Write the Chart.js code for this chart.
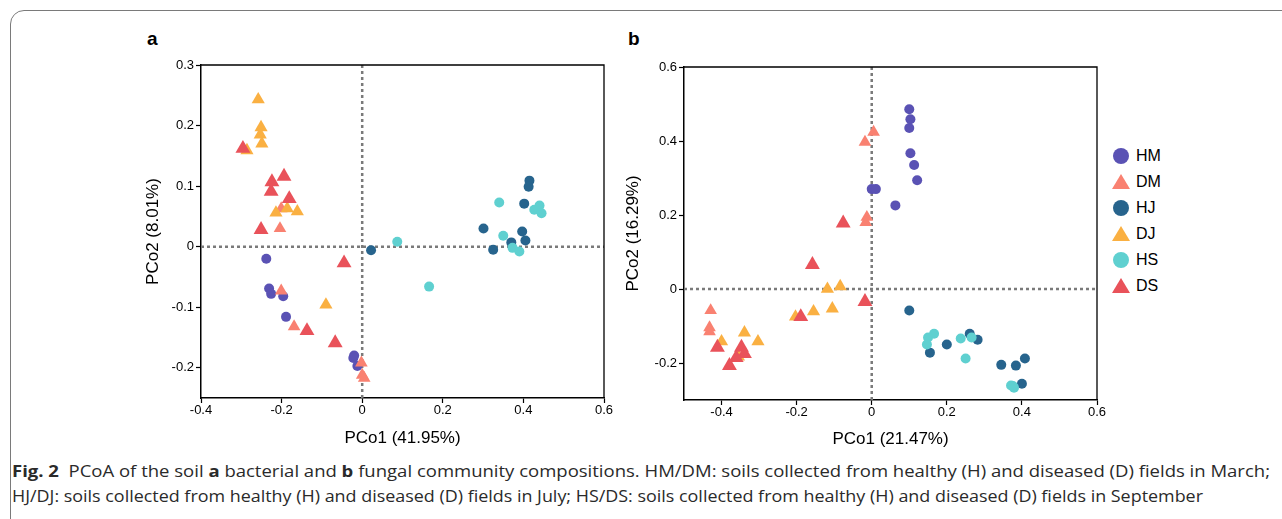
<!DOCTYPE html>
<html>
<head>
<meta charset="utf-8">
<script src="https://cdn.jsdelivr.net/npm/chart.js@4.4.1/dist/chart.umd.min.js"></script>
<style>
  body { margin: 0; width: 1282px; height: 519px; overflow: hidden; background: #fff; position: relative; font-family: "Liberation Sans", Arial, sans-serif; }
  .frame { position: absolute; left: 10px; top: 10px; width: 1320px; height: 600px; border: 1.5px solid #7a7a7a; border-radius: 14px; }
  canvas { position: absolute; }
  .panel { position: absolute; font-weight: bold; font-size: 19px; color: #000; }
  .legend { position: absolute; left: 1112px; top: 143px; }
  .legend div { position: relative; height: 26px; line-height: 26px; font-size: 16px; padding-left: 24px; color: #000; }
  .legend .dot { position: absolute; left: 1px; top: 5px; width: 16px; height: 16px; border-radius: 50%; padding: 0; }
  .legend .tri { position: absolute; left: 0; top: 5px; width: 0; height: 0; padding: 0; border-left: 9px solid transparent; border-right: 9px solid transparent; border-bottom: 15px solid; }
  .caption { position: absolute; left: 12px; white-space: nowrap; font-family: "Open Sans", sans-serif; font-size: 16px; color: #2a2a2a; transform-origin: 0 50%; }
</style>
</head>
<body>
<div class="frame"></div>
<div class="panel" style="left:147px; top:28px;">a</div>
<div class="panel" style="left:628px; top:28px;">b</div>

<canvas id="chartA" width="473" height="394" style="left:143px; top:55px;"></canvas>
<canvas id="chartB" width="486" height="393" style="left:623px; top:57px;"></canvas>

<div class="legend" id="legend"></div>

<div class="caption" id="cap1" style="top:460px;"><b>Fig. 2</b>&nbsp; PCoA of the soil <b>a</b> bacterial and <b>b</b> fungal community compositions. HM/DM: soils collected from healthy (H) and diseased (D) fields in March;</div>
<div class="caption" id="cap2" style="top:485px;">HJ/DJ: soils collected from healthy (H) and diseased (D) fields in July; HS/DS: soils collected from healthy (H) and diseased (D) fields in September</div>

<script>
// ---------------- data : panel a (bacteria) ----------------
const aHM = [[-0.238, -0.020], [-0.231, -0.069], [-0.226, -0.078], [-0.196, -0.082], [-0.189, -0.116], [-0.020, -0.180], [-0.022, -0.184], [-0.012, -0.197]];
const aDM = [[-0.201, 0.063], [-0.204, 0.030], [-0.201, -0.073], [-0.169, -0.132], [-0.002, -0.192], [0.000, -0.212], [0.005, -0.217]];
const aHJ = [[0.415, 0.109], [0.413, 0.099], [0.402, 0.071], [0.301, 0.030], [0.397, 0.025], [0.405, 0.010], [0.370, 0.007], [0.325, -0.005], [0.022, -0.006]];
const aDJ = [[-0.258, 0.243], [-0.251, 0.197], [-0.253, 0.185], [-0.249, 0.170], [-0.286, 0.159], [-0.214, 0.056], [-0.186, 0.063], [-0.161, 0.058], [-0.090, -0.096]];
const aHS = [[0.340, 0.073], [0.440, 0.068], [0.427, 0.061], [0.445, 0.055], [0.350, 0.018], [0.373, -0.002], [0.390, -0.008], [0.087, 0.008], [0.166, -0.066]];
const aDS = [[-0.296, 0.162], [-0.224, 0.107], [-0.194, 0.116], [-0.226, 0.091], [-0.181, 0.079], [-0.251, 0.028], [-0.045, -0.027], [-0.137, -0.139], [-0.067, -0.159]];

// ---------------- data : panel b (fungi) ----------------
const bHM = [[0.100, 0.486], [0.103, 0.459], [0.100, 0.435], [0.103, 0.367], [0.113, 0.335], [0.121, 0.294], [0.000, 0.270], [0.011, 0.270], [0.063, 0.226]];
const bDM = [[0.005, 0.424], [-0.018, 0.397], [-0.013, 0.194], [-0.016, 0.180], [-0.429, -0.058], [-0.432, -0.104], [-0.432, -0.115]];
const bHJ = [[0.100, -0.058], [0.155, -0.172], [0.200, -0.150], [0.261, -0.121], [0.282, -0.137], [0.345, -0.205], [0.384, -0.207], [0.408, -0.188], [0.400, -0.256]];
const bDJ = [[-0.118, 0.000], [-0.084, 0.007], [-0.203, -0.075], [-0.155, -0.061], [-0.105, -0.053], [-0.400, -0.142], [-0.339, -0.118], [-0.303, -0.142], [-0.355, -0.183]];
const bHS = [[0.166, -0.121], [0.150, -0.131], [0.147, -0.150], [0.237, -0.134], [0.266, -0.131], [0.250, -0.188], [0.371, -0.261], [0.379, -0.267], [0.376, -0.262]];
const bDS = [[-0.158, 0.066], [-0.076, 0.178], [-0.018, -0.034], [-0.189, -0.075], [-0.411, -0.158], [-0.347, -0.158], [-0.339, -0.175], [-0.361, -0.186], [-0.379, -0.207]];

// tick labels
const aXTicks = [-0.4, -0.2, 0, 0.2, 0.4, 0.6];
const aYTicks = [-0.2, -0.1, 0, 0.1, 0.2, 0.3];
const bXTicks = [-0.4, -0.2, 0, 0.2, 0.4, 0.6];
const bYTicks = [-0.2, 0, 0.2, 0.4, 0.6];

const groups = ['HM', 'DM', 'HJ', 'DJ', 'HS', 'DS'];
const colors = { HM: '#5a52b4', DM: '#f98171', HJ: '#27648d', DJ: '#fab042', HS: '#5fd0d0', DS: '#e9525a' };
const shapes = { HM: 'circle', DM: 'triangle', HJ: 'circle', DJ: 'triangle', HS: 'circle', DS: 'triangle' };
const sizes = { HM: 5, DM: 7.3, HJ: 5, DJ: 7.6, HS: 5, DS: 8.6 };
// DS drawn on top, HM at the bottom
const drawOrder = { DS: 0, DJ: 1, DM: 2, HS: 3, HJ: 4, HM: 5 };

const tickFont = { family: '"Liberation Sans", Arial, sans-serif', size: 13 };
const titleFont = { family: '"Liberation Sans", Arial, sans-serif', size: 17 };

function fmt(v) {
    if (Math.abs(v) < 1e-9) return '0';
    return v.toFixed(1);
}

// dashed zero lines + box
const framePlugin = {
    id: 'frame',
    beforeDatasetsDraw(chart) {
        const ctx = chart.ctx;
        const area = chart.chartArea;
        const x0 = chart.scales.x.getPixelForValue(0);
        const y0 = chart.scales.y.getPixelForValue(0);
        ctx.save();
        ctx.strokeStyle = '#7a7a7a';
        ctx.lineWidth = 2.5;
        ctx.setLineDash([3, 3]);
        ctx.beginPath();
        ctx.moveTo(x0, area.top);
        ctx.lineTo(x0, area.bottom);
        ctx.moveTo(area.left, y0);
        ctx.lineTo(area.right, y0);
        ctx.stroke();
        ctx.restore();
    },
    afterDraw(chart) {
        const ctx = chart.ctx;
        const area = chart.chartArea;
        ctx.save();
        ctx.strokeStyle = '#000';
        ctx.lineWidth = 1.3;
        ctx.beginPath();
        ctx.moveTo(area.left, area.top);
        ctx.lineTo(area.right, area.top);
        ctx.lineTo(area.right, area.bottom);
        ctx.stroke();
        ctx.restore();
    }
};

function makeChart(id, sets, xr, yr, xTicks, yTicks, xTitle, yTitle, yWidth, xHeight) {
    const datasets = groups.map(g => ({
        label: g,
        data: sets[g].map(p => ({ x: p[0], y: p[1] })),
        pointStyle: shapes[g],
        pointRadius: sizes[g],
        pointHoverRadius: sizes[g],
        backgroundColor: colors[g],
        borderColor: colors[g],
        borderWidth: 0,
        order: drawOrder[g]
    }));

    const axis = (min, max, ticks, title, isY, fitSize) => ({
        type: 'linear',
        min: min,
        max: max,
        afterBuildTicks: s => { s.ticks = ticks.map(v => ({ value: v })); },
        afterFit: s => { if (isY) s.width = fitSize; else s.height = fitSize; },
        border: { display: true, color: '#000', width: 1.5 },
        grid: { display: true, drawOnChartArea: false, drawTicks: true, tickLength: 5, tickColor: '#000', tickWidth: 1.2 },
        ticks: { color: '#000', font: tickFont, padding: isY ? 2 : 0, autoSkip: false, maxRotation: 0, callback: v => fmt(v) },
        title: { display: true, text: title, color: '#000', font: titleFont, padding: 0 }
    });

    return new Chart(document.getElementById(id), {
        type: 'scatter',
        data: { datasets: datasets },
        options: {
            responsive: false,
            animation: false,
            layout: { padding: { left: 0, top: 10, right: 12, bottom: 0 } },
            plugins: { legend: { display: false }, tooltip: { enabled: false } },
            scales: {
                x: axis(xr[0], xr[1], xTicks, xTitle, false, xHeight),
                y: axis(yr[0], yr[1], yTicks, yTitle, true, yWidth)
            }
        },
        plugins: [framePlugin]
    });
}

makeChart('chartA', { HM: aHM, DM: aDM, HJ: aHJ, DJ: aDJ, HS: aHS, DS: aDS },
    [-0.4, 0.6], [-0.25, 0.3], aXTicks, aYTicks, 'PCo1 (41.95%)', 'PCo2 (8.01%)', 58, 51);

makeChart('chartB', { HM: bHM, DM: bDM, HJ: bHJ, DJ: bDJ, HS: bHS, DS: bDS },
    [-0.5, 0.6], [-0.3, 0.6], bXTicks, bYTicks, 'PCo1 (21.47%)', 'PCo2 (16.29%)', 61, 50);

// ---------------- legend ----------------
const legend = document.getElementById('legend');
groups.forEach(g => {
    const row = document.createElement('div');
    const mark = document.createElement('span');
    if (shapes[g] === 'circle') {
        mark.className = 'dot';
        mark.style.background = colors[g];
    } else {
        mark.className = 'tri';
        mark.style.borderBottomColor = colors[g];
    }
    row.appendChild(mark);
    row.appendChild(document.createTextNode(g));
    legend.appendChild(row);
});

// ---------------- caption fit ----------------
const cap1 = document.getElementById('cap1');
const cap2 = document.getElementById('cap2');
cap1.style.transform = `scaleX(${1258 / cap1.getBoundingClientRect().width})`;
cap2.style.transform = `scaleX(${1191 / cap2.getBoundingClientRect().width})`;
</script>
</body>
</html>
